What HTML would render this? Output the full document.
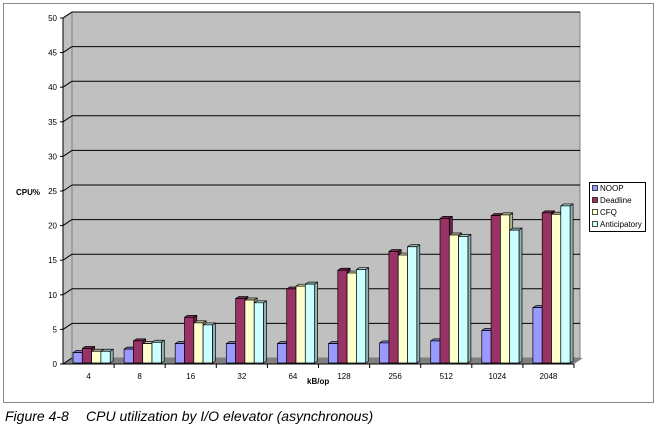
<!DOCTYPE html>
<html><head><meta charset="utf-8"><style>
html,body{margin:0;padding:0;background:#fff;width:656px;height:428px;overflow:hidden}
svg{display:block}
text{font-family:"Liberation Sans",sans-serif}
</style></head><body>
<svg id="chart" width="656" height="428" viewBox="0 0 656 428" xmlns="http://www.w3.org/2000/svg">
<rect x="3.5" y="3.5" width="650" height="399" fill="#fff" stroke="#888" stroke-width="1"/>
<polygon points="63,364 72,358 72,12 63,18" fill="#c0c0c0" stroke="#000" stroke-width="0.8"/>
<rect x="72" y="12" width="508" height="346" fill="#c0c0c0" stroke="#808080" stroke-width="1"/>
<polygon points="63,364 72,358 583,358 574,364" fill="#808080"/>
<g id="grid" stroke="#000" stroke-width="1"></g>
<g id="bars" stroke="#000" stroke-width="0.7" stroke-linejoin="round"></g>
<line x1="63" y1="18" x2="63" y2="364" stroke="#000"/>
<line x1="63" y1="364" x2="574" y2="364" stroke="#000"/>
<g id="lab" font-size="8" fill="#000"></g>
<text x="16" y="195" font-size="8" font-weight="bold">CPU%</text>
<text x="307" y="384" font-size="8" font-weight="bold">kB/op</text>
<rect x="589.5" y="182.5" width="56" height="49" fill="#fff" stroke="#000"/>
<g font-size="8">
<rect x="592.5" y="185.5" width="5" height="5" fill="#9999ff" stroke="#000" stroke-width="0.7"/><text x="600" y="191">NOOP</text>
<rect x="592.5" y="197.5" width="5" height="5" fill="#993366" stroke="#000" stroke-width="0.7"/><text x="600" y="203">Deadline</text>
<rect x="592.5" y="209.5" width="5" height="5" fill="#ffffcc" stroke="#000" stroke-width="0.7"/><text x="600" y="215">CFQ</text>
<rect x="592.5" y="221.5" width="5" height="5" fill="#ccffff" stroke="#000" stroke-width="0.7"/><text x="600" y="227">Anticipatory</text>
</g>
<text x="5" y="421" font-size="14" font-style="italic">Figure 4-8<tspan x="86">CPU utilization by I/O elevator (asynchronous)</tspan></text>
</svg>
<script>
(function(){
var ns="http://www.w3.org/2000/svg";
function el(p,t,a){var e=document.createElementNS(ns,t);for(var k in a)e.setAttribute(k,a[k]);p.appendChild(e);return e;}
var grid=document.getElementById('grid'),lab=document.getElementById('lab'),bars=document.getElementById('bars');
var sc=6.92;
for(var i=0;i<=10;i++){
  var yb=358-i*5*sc, yf=364-i*5*sc;
  if(i>0)el(grid,'line',{x1:72,y1:yb,x2:580,y2:yb});
  el(grid,'line',{x1:63,y1:yf,x2:72,y2:yb});
  el(grid,'line',{x1:60,y1:yf,x2:63,y2:yf});
  var t=el(lab,'text',{x:57,y:yf+3,'text-anchor':'end'});t.textContent=i*5;
}
var cats=['4','8','16','32','64','128','256','512','1024','2048'];
var data=[[1.5,2.1,1.7,1.7],[2.0,3.2,2.8,3.0],[2.8,6.6,5.8,5.5],[2.8,9.3,9.1,8.7],[2.8,10.7,11.1,11.4],[2.8,13.4,13.0,13.5],[2.9,16.1,15.6,16.8],[3.2,20.9,18.5,18.3],[4.7,21.3,21.4,19.2],[8.0,21.7,21.5,22.7]];
var cols=[['#9999ff','#7a7acc','#6b6bb3'],['#993366','#7a2952','#6b2447'],['#ffffcc','#ccccA3','#b3b38f'],['#ccffff','#a3cccc','#8fb3b3']];
var cw=51.1;
for(var c=0;c<10;c++){
  var x0=63+c*cw;
  el(grid,'line',{x1:x0+cw,y1:364,x2:x0+cw,y2:368});
  var t2=el(lab,'text',{x:x0+cw/2,y:379,'text-anchor':'middle'});t2.textContent=cats[c];
  for(var k=0;k<4;k++){
    var bx=x0+10+k*9.3, w=9.3, by=363, h=data[c][k]*sc, ty=by-h, dx=3, dy=-2;
    el(bars,'polygon',{points:[bx+w,by,bx+w+dx,by+dy,bx+w+dx,ty+dy,bx+w,ty].join(' '),fill:cols[k][2]});
    el(bars,'polygon',{points:[bx,ty,bx+dx,ty+dy,bx+w+dx,ty+dy,bx+w,ty].join(' '),fill:cols[k][1]});
    el(bars,'rect',{x:bx,y:ty,width:w,height:h,fill:cols[k][0]});
  }
}
})();
</script>
</body></html>
